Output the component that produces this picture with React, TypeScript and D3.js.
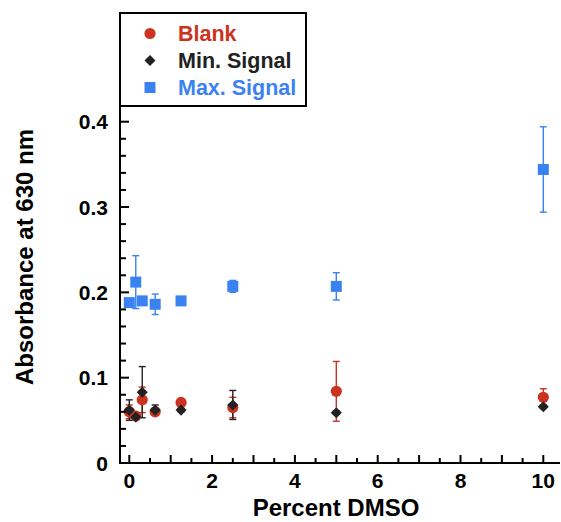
import React from "react";
import * as d3 from "d3";

const percentDMSO = [0, 0.156, 0.3125, 0.625, 1.25, 2.5, 5, 10];
const blankValues = [0.060, 0.055, 0.074, 0.060, 0.071, 0.065, 0.084, 0.077];
const blankErrors = [0.008, 0.004, 0.015, 0.003, 0.002, 0.012, 0.035, 0.010];
const minValues = [0.062, 0.054, 0.083, 0.062, 0.062, 0.068, 0.059, 0.066];
const minErrors = [0.012, 0.003, 0.030, 0.006, 0.002, 0.017, 0.002, 0.002];
const maxValues = [0.188, 0.212, 0.190, 0.186, 0.190, 0.207, 0.207, 0.344];
const maxErrors = [0.002, 0.031, 0.003, 0.012, 0.003, 0.007, 0.016, 0.050];

const seriesNames = ["Blank", "Min. Signal", "Max. Signal"];
const yTickLabels = ["0", "0.1", "0.2", "0.3", "0.4"];
const xTickLabels = ["0", "2", "4", "6", "8", "10"];

const RED = "#cb3320";
const BLACK = "#222222";
const BLUE = "#3b82f1";
const FONT = "'Liberation Sans', Arial, Helvetica, sans-serif";

export default function App() {
  const W = 561;
  const H = 522;
  const left = 120;
  const bottom = 463;
  const x = d3.scaleLinear().domain([0, 10]).range([129.3, 543.3]);
  const y = d3.scaleLinear().domain([0, 0.4]).range([bottom, 121.7]);
  const axisRight = 560;
  const axisTop = 106;

  const xMinor = d3.range(0, 10.01, 0.5);
  const yMinor = d3.range(0, 0.4001, 0.02);

  const series = [
    { name: seriesNames[0], vals: blankValues, errs: blankErrors, color: RED, shape: "circle" },
    { name: seriesNames[1], vals: minValues, errs: minErrors, color: BLACK, shape: "diamond" },
    { name: seriesNames[2], vals: maxValues, errs: maxErrors, color: BLUE, shape: "square" },
  ];

  const marker = (shape: string, cx: number, cy: number, color: string, key: string) => {
    if (shape === "circle") return <circle key={key} cx={cx} cy={cy} r={5.6} fill={color} />;
    if (shape === "diamond") {
      const s = d3.symbol(d3.symbolDiamond2, 78)();
      return <path key={key} d={s as string} transform={`translate(${cx},${cy})`} fill={color} />;
    }
    return <rect key={key} x={cx - 5.5} y={cy - 5.5} width={11} height={11} fill={color} />;
  };

  return (
    <svg width={W} height={H} style={{ position: "absolute", left: 0, top: 0, background: "#fff" }} fontFamily={FONT}>
      {/* error bars */}
      {series.map((s) =>
        percentDMSO.map((xv, i) => {
          const cx = x(xv);
          const y1 = y(s.vals[i] + s.errs[i]);
          const y2 = y(s.vals[i] - s.errs[i]);
          return (
            <g key={`e-${s.name}-${i}`} stroke={s.color} strokeWidth={1.4}>
              <line x1={cx} x2={cx} y1={y1} y2={y2} />
              <line x1={cx - 3.5} x2={cx + 3.5} y1={y1} y2={y1} />
              <line x1={cx - 3.5} x2={cx + 3.5} y1={y2} y2={y2} />
            </g>
          );
        })
      )}
      {/* markers */}
      {series.map((s) =>
        percentDMSO.map((xv, i) => marker(s.shape, x(xv), y(s.vals[i]), s.color, `m-${s.name}-${i}`))
      )}

      {/* axes */}
      <g stroke="#000" strokeWidth={2}>
        <line x1={left} x2={left} y1={axisTop} y2={bottom + 1} />
        <line x1={left - 1} x2={axisRight} y1={bottom} y2={bottom} />
        {xMinor.map((v, i) => (
          <line key={`xt${i}`} x1={x(v)} x2={x(v)} y1={bottom} y2={bottom - (i % 2 === 0 ? 8 : 5)} />
        ))}
        {yMinor.map((v, i) => (
          <line key={`yt${i}`} x1={left} x2={left + (i % 5 === 0 ? 9 : 6)} y1={y(v)} y2={y(v)} />
        ))}
      </g>
      {xTickLabels.map((t) => (
        <text key={`xl${t}`} x={x(+t)} y={488} textAnchor="middle" fontSize={21} fontWeight="bold" fill="#000">
          {t}
        </text>
      ))}
      {yTickLabels.map((t) => (
        <text key={`yl${t}`} x={108} y={y(+t)} dy="0.36em" textAnchor="end" fontSize={21} fontWeight="bold" fill="#000">
          {t}
        </text>
      ))}
      <text x={336} y={516} textAnchor="middle" fontSize={24} fontWeight="bold" fill="#000">
        Percent DMSO
      </text>
      <text transform="translate(33,257) rotate(-90)" textAnchor="middle" fontSize={24} fontWeight="bold" fill="#000">
        Absorbance at 630 nm
      </text>

      {/* legend */}
      <rect x={120} y={13} width={186} height={93} fill="#fff" stroke="#000" strokeWidth={2} />
      {series.map((s, i) => {
        const cy = 33.5 + i * 27;
        return (
          <g key={`lg${i}`}>
            {marker(s.shape, 150, cy, s.color, `lm${i}`)}
            <text x={178} y={cy} dy="0.36em" fontSize={21.5} fontWeight="bold" fill={s.color}>
              {s.name}
            </text>
          </g>
        );
      })}
    </svg>
  );
}
